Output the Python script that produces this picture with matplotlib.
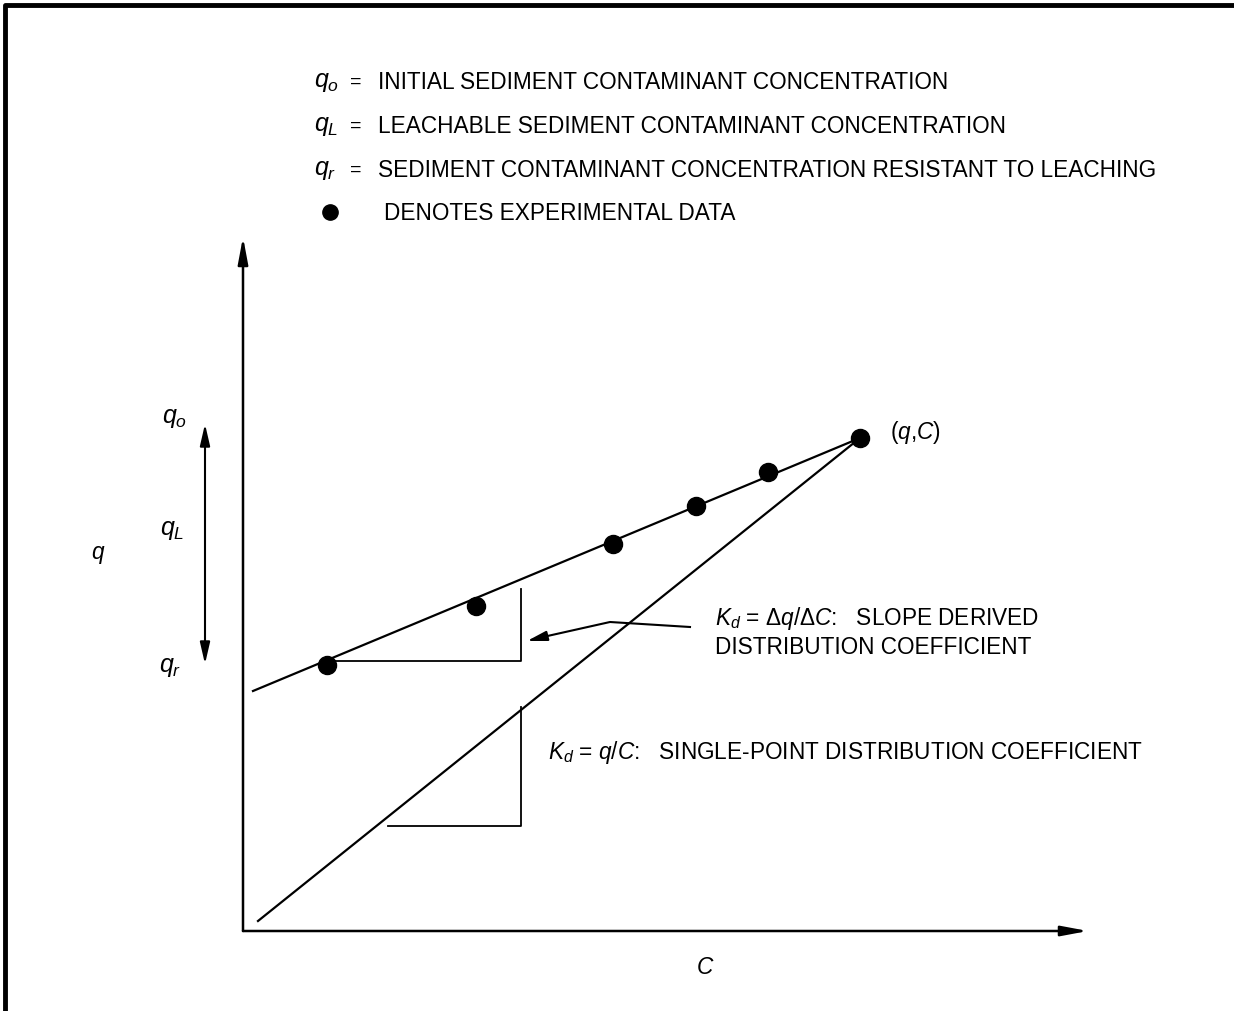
import matplotlib
matplotlib.use("Agg")
import matplotlib.pyplot as plt

plt.rcParams['font.family'] = ['Liberation Sans', 'DejaVu Sans']
plt.rcParams['mathtext.fontset'] = 'custom'
plt.rcParams['mathtext.rm'] = 'Liberation Sans'
plt.rcParams['mathtext.it'] = 'Liberation Sans:italic'

# schematic values, C and q in arbitrary units (origin = axes corner)
C_pts = [0.84, 2.33, 3.70, 4.53, 5.25, 6.17]
q_pts = [2.66, 3.25, 3.87, 4.25, 4.59, 4.93]
fit_C = [0.10, 6.17]
fit_q = [2.40, 4.93]
single_C = [0.15, 6.17]
single_q = [0.10, 4.93]
tri1_C = [0.84, 2.78, 2.78]
tri1_q = [2.70, 2.70, 3.42]
tri2_C = [1.45, 2.78, 2.78]
tri2_q = [1.05, 1.05, 2.24]
leader_C = [4.47, 3.67, 3.00]
leader_q = [3.04, 3.09, 2.94]
leader_tip = (2.84, 2.90)
q_axis_top = 6.94
C_axis_end = 8.45
q_range = (2.67, 5.07)
q_range_C = -0.38

legend_syms = [r'$q_o$', r'$q_L$', r'$q_r$']
legend_txt = ['INITIAL SEDIMENT CONTAMINANT CONCENTRATION',
              'LEACHABLE SEDIMENT CONTAMINANT CONCENTRATION',
              'SEDIMENT CONTAMINANT CONCENTRATION RESISTANT TO LEACHING']
legend_y = [8.50, 8.06, 7.62, 7.19]

fig = plt.figure(figsize=(12.34, 10.12), dpi=100)
ax = fig.add_axes([0, 0, 1, 1])
ax.set_xlim(-2.43, 9.91)
ax.set_ylim(-0.80, 9.32)
ax.axis('off')

# outer frame (left and top only visible)
ax.plot([0.004, 0.004, 1.0], [0.0, 0.994, 0.994], color='black', lw=3.5,
        transform=ax.transAxes, solid_capstyle='butt')

# axes with arrows
axis_arrow = dict(arrowstyle='-|>,head_length=1.6,head_width=0.3',
                  lw=1.8, color='black', shrinkA=0, shrinkB=0)
ax.annotate('', xy=(0, q_axis_top), xytext=(0, 0), arrowprops=axis_arrow)
ax.annotate('', xy=(C_axis_end, 0), xytext=(0, 0), arrowprops=axis_arrow)

# lines
ax.plot(fit_C, fit_q, color='black', lw=1.6)
ax.plot(single_C, single_q, color='black', lw=1.6)
ax.plot(tri1_C, tri1_q, color='black', lw=1.3)
ax.plot(tri2_C, tri2_q, color='black', lw=1.3)
ax.plot(C_pts, q_pts, 'o', color='black', markersize=13)

# leader arrow
ax.plot(leader_C, leader_q, color='black', lw=1.5)
ax.annotate('', xy=leader_tip, xytext=(leader_C[-1], leader_q[-1]),
            arrowprops=dict(arrowstyle='-|>,head_length=1.2,head_width=0.3',
                            lw=1.5, color='black', shrinkA=0, shrinkB=0))

# q range double arrow
ax.annotate('', xy=(q_range_C, q_range[1]), xytext=(q_range_C, q_range[0]),
            arrowprops=dict(arrowstyle='<|-|>,head_length=1.3,head_width=0.3',
                            lw=1.5, color='black', shrinkA=0, shrinkB=0))

fs = 16.3
sfs = 18
ax.text(-0.68, 5.14, r'$q_o$', fontsize=sfs, ha='center', va='center')
ax.text(-0.71, 4.02, r'$q_L$', fontsize=sfs, ha='center', va='center')
ax.text(-0.73, 2.65, r'$q_r$', fontsize=sfs, ha='center', va='center')
ax.text(-1.45, 3.77, r'$q$', fontsize=fs, ha='center', va='center')
ax.text(4.62, -0.36, r'$C$', fontsize=fs, ha='center', va='center')
ax.text(6.47, 4.99, r'$(q{,}C)$', fontsize=fs, ha='left', va='center')

# legend block
for sym, txt, y in zip(legend_syms, legend_txt, legend_y):
    ax.text(0.71, y, sym, fontsize=sfs, ha='left', va='center')
    ax.text(1.07, y, '=', fontsize=14, ha='left', va='center')
    ax.text(1.35, y, txt, fontsize=fs, ha='left', va='center')
ax.plot([0.87], [legend_y[3]], 'o', color='black', markersize=11)
ax.text(1.41, legend_y[3], 'DENOTES EXPERIMENTAL DATA', fontsize=fs, ha='left', va='center')

# slope annotations
ax.text(4.72, 3.14, r'$K_d$ = $Δq/ΔC$:   SLOPE DERIVED', fontsize=fs, ha='left', va='center')
ax.text(4.72, 2.85, 'DISTRIBUTION COEFFICIENT', fontsize=fs, ha='left', va='center')
ax.text(3.05, 1.79, r'$K_d$ = $q/C$:   SINGLE-POINT DISTRIBUTION COEFFICIENT',
        fontsize=fs, ha='left', va='center')

fig.savefig('out.png', dpi=100)
